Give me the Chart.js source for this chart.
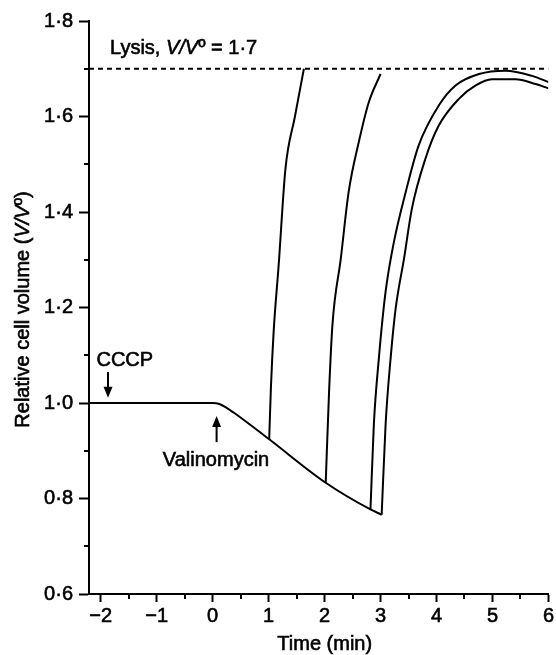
<!DOCTYPE html>
<html><head><meta charset="utf-8">
<script src="https://cdn.jsdelivr.net/npm/chart.js@4"></script>
<style>html,body{margin:0;padding:0;background:#fff}#wrap{width:556px;height:655px}</style>
</head><body><div id="wrap"><canvas id="c" width="556" height="655"></canvas></div>
<script>
// ---- data ----
const xTicks = [-2, -1, 0, 1, 2, 3, 4, 5, 6];
const xMinorTicks = [-1.5, -0.5, 0.5, 1.5, 2.5, 3.5, 4.5, 5.5];
const yTicks = [0.6, 0.8, 1.0, 1.2, 1.4, 1.6, 1.8];
const yMinorTicks = [0.7, 0.9, 1.1, 1.3, 1.5, 1.7];
const xRange = [-2.21, 6];
const yRange = [0.6, 1.8];
const lysisLevel = 1.7;

const baselineTime = [-2.21, 0.0, 0.12, 0.25, 0.4, 1.01, 2.02, 2.82, 3.02];
const baselineVol  = [1.0, 1.0, 0.998, 0.99, 0.978, 0.924, 0.833, 0.777, 0.766];

const swell1Time = [1.01, 1.04, 1.09, 1.18, 1.30, 1.47, 1.63];
const swell1Vol  = [0.924, 1.03, 1.15, 1.29, 1.49, 1.60, 1.70];

const swell2Time = [2.02, 2.08, 2.14, 2.29, 2.43, 2.61, 2.79, 3.00];
const swell2Vol  = [0.833, 1.024, 1.163, 1.303, 1.442, 1.546, 1.630, 1.689];

const swell3Time = [2.82, 2.88, 2.97, 3.09, 3.24, 3.45, 3.68, 4.04, 4.34, 4.76, 5.23, 5.71, 6.0];
const swell3Vol  = [0.777, 0.955, 1.094, 1.233, 1.338, 1.442, 1.539, 1.623, 1.665, 1.689, 1.696, 1.685, 1.672];

const swell4Time = [3.02, 3.09, 3.18, 3.27, 3.42, 3.56, 3.80, 4.04, 4.40, 4.70, 4.99, 5.41, 5.77, 6.0];
const swell4Vol  = [0.766, 0.955, 1.094, 1.198, 1.303, 1.407, 1.511, 1.581, 1.637, 1.665, 1.678, 1.678, 1.668, 1.659];

// annotation anchors (data coordinates)
const cccpArrow = {x: -1.87, from: 1.065, to: 1.011};
const valArrow = {x: 0.07, from: 0.918, to: 0.973};

const FONT = '"Liberation Sans", Arial, Helvetica, sans-serif';
const FS = 20;
const pts = (xs, ys) => xs.map((x, i) => ({x, y: ys[i]}));

const lineDs = (xs, ys) => ({
  data: pts(xs, ys), borderColor: '#000', borderWidth: 2, pointRadius: 0,
  cubicInterpolationMode: 'monotone', fill: false
});

const annot = {
  id: 'annot',
  afterDraw(chart) {
    const ctx = chart.ctx, xs = chart.scales.x, ys = chart.scales.y;
    const X = v => xs.getPixelForValue(v), Y = v => ys.getPixelForValue(v);
    ctx.save();
    ctx.strokeStyle = '#000'; ctx.fillStyle = '#000'; ctx.lineWidth = 2;
    // minor ticks
    const ca = chart.chartArea;
    ctx.beginPath();
    yMinorTicks.forEach(v => { const p = Math.round(Y(v)); ctx.moveTo(ca.left - 5, p); ctx.lineTo(ca.left, p); });
    xMinorTicks.forEach(v => { const p = Math.round(X(v)); ctx.moveTo(p, ca.bottom); ctx.lineTo(p, ca.bottom + 5); });
    ctx.stroke();
    // arrows
    const arrow = (x, y0, y1) => {
      const px = X(x), p0 = Y(y0), p1 = Y(y1), dir = Math.sign(p1 - p0);
      ctx.beginPath(); ctx.moveTo(px, p0); ctx.lineTo(px, p1 - dir * 6); ctx.stroke();
      ctx.beginPath(); ctx.moveTo(px, p1); ctx.lineTo(px - 4.5, p1 - dir * 11); ctx.lineTo(px + 4.5, p1 - dir * 11); ctx.closePath(); ctx.fill();
    };
    arrow(cccpArrow.x, cccpArrow.from, cccpArrow.to);
    arrow(valArrow.x, valArrow.from, valArrow.to);
    // texts
    const nf = FS + 'px ' + FONT, itf = 'italic ' + FS + 'px ' + FONT;
    ctx.lineWidth = 0.6;
    const drawSeg = (segs, x, y, align) => {
      let w = 0; segs.forEach(s => { ctx.font = s[1]; w += ctx.measureText(s[0]).width; });
      let cx = align === 'center' ? x - w / 2 : x;
      ctx.textAlign = 'left';
      segs.forEach(s => { ctx.font = s[1]; ctx.fillText(s[0], cx, y); ctx.strokeText(s[0], cx, y); cx += ctx.measureText(s[0]).width; });
    };
    ctx.textBaseline = 'alphabetic';
    drawSeg([['Lysis, ', nf], ['V/V', itf], ['º', nf], [' = 1·7', nf]], 110, 54, 'left');
    drawSeg([['CCCP', nf]], X(-1.57), Y(1.065) - 6, 'center');
    drawSeg([['Valinomycin', nf]], X(0.06), Y(0.918) + 24, 'center');
    drawSeg([['Time (min)', nf]], (ca.left + ca.right) / 2 + 6, 650, 'center');
    // y title
    ctx.save();
    ctx.translate(29, (ca.top + ca.bottom) / 2 + 2);
    ctx.rotate(-Math.PI / 2);
    drawSeg([['Relative cell volume (', nf], ['V/V', itf], ['º', nf], [')', nf]], 0, 0, 'center');
    ctx.restore();
    ctx.restore();
  }
};

new Chart(document.getElementById('c'), {
  type: 'line',
  data: {
    datasets: [
      {data: pts(xRange, [lysisLevel, lysisLevel]), borderColor: '#000', borderWidth: 2, borderDash: [5, 4], pointRadius: 0, tension: 0},
      lineDs(baselineTime, baselineVol),
      lineDs(swell1Time, swell1Vol),
      lineDs(swell2Time, swell2Vol),
      lineDs(swell3Time, swell3Vol),
      lineDs(swell4Time, swell4Vol)
    ]
  },
  options: {
    responsive: false, animation: false, devicePixelRatio: 1,
    layout: {padding: {left: 0, right: 6, top: 21, bottom: 0}},
    plugins: {legend: {display: false}, tooltip: {enabled: false}},
    scales: {
      x: {
        type: 'linear', min: xRange[0], max: xRange[1],
        afterBuildTicks: s => { s.ticks = xTicks.map(v => ({value: v})); },
        afterFit: s => { s.height = 61; },
        ticks: {color: '#000', font: {family: FONT, size: FS}, padding: 2, maxRotation: 0, autoSkip: false,
          textStrokeColor: '#000', textStrokeWidth: 0.6,
          callback: v => v < 0 ? '\u2212' + Math.abs(v) : String(v)},
        grid: {drawOnChartArea: false, drawTicks: true, tickLength: 8, tickWidth: 2, tickColor: '#000'},
        border: {color: '#000', width: 2}
      },
      y: {
        type: 'linear', min: yRange[0], max: yRange[1],
        afterBuildTicks: s => { s.ticks = yTicks.map(v => ({value: v})); },
        afterFit: s => { s.width = 89; },
        ticks: {color: '#000', font: {family: FONT, size: FS}, padding: 6, autoSkip: false,
          textStrokeColor: '#000', textStrokeWidth: 0.6,
          callback: v => Number(v).toFixed(1).replace('.', '·')},
        grid: {drawOnChartArea: false, drawTicks: true, tickLength: 10, tickWidth: 2, tickColor: '#000'},
        border: {color: '#000', width: 2}
      }
    }
  },
  plugins: [annot]
});
</script></body></html>
